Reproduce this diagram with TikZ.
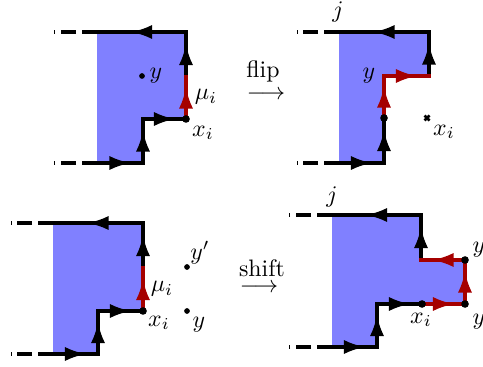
\documentclass[tikz,border=0pt]{standalone}
\usetikzlibrary{arrows.meta,decorations.markings}
\definecolor{dred}{RGB}{165,0,0}
\definecolor{fillblue}{RGB}{128,128,255}
\begin{document}
\begin{tikzpicture}[x=0.42pt,y=-0.42pt,
  edge/.style={line width=1.4pt,line cap=rect},
  redge/.style={edge,draw=dred},
  dashedge/.style={line width=1.4pt,dash pattern=on 6.5pt off 2.3pt},
  ma/.style={postaction={decorate,decoration={markings,
     mark=at position 0.5 with {\arrow[xshift=4.5pt]{Latex[length=9pt,width=6pt]}}}}},
  dot/.style={circle,fill=black,inner sep=0pt,minimum size=3.2pt},
  sdot/.style={circle,fill=black,inner sep=0pt,minimum size=2.4pt},
  lab/.style={inner sep=0pt}]
\useasboundingbox (0,0) rectangle (483,367);

% ---------- panel 1 ----------
\coordinate (A1) at (97,32);  \coordinate (B1) at (186,32);
\coordinate (C1) at (186,77); \coordinate (X1) at (186,119);
\coordinate (D1) at (143,119);\coordinate (E1) at (143,163);
\coordinate (F1) at (97,163); \coordinate (L1t) at (54,32);
\coordinate (L1b) at (54,163);
\fill[fillblue] (A1) -- (B1) -- (X1) -- (D1) -- (E1) -- (F1) -- cycle;
\draw[dashedge] (A1) -- (L1t);
\draw[dashedge] (F1) -- (L1b);
\draw[edge,ma] (B1) -- (A1);
\draw[edge,ma] (C1) -- (B1);
\draw[edge,ma] (D1) -- (X1);
\draw[edge,ma] (E1) -- (D1);
\draw[edge,ma] (F1) -- (E1);
\draw[redge,ma] (X1) -- (C1);
\node[dot] (x1) at (X1) {};
\node[sdot] (y1) at (142,76) {};
\node[lab] (ly1) at (156,76) {$y$};
\node[lab] (lmu1) at (206,97) {$\mu_i$};
\node[lab] (lx1) at (203,133) {$x_i$};

% ---------- flip ----------
\node[lab,anchor=base] (flip) at (263,78) {flip};
\node[lab] (flipar) at (266,100) {$\smash{\longrightarrow}$};

% ---------- panel 2 ----------
\coordinate (A2) at (339,32);  \coordinate (B2) at (429,32);
\coordinate (C2) at (429,76);  \coordinate (Y2) at (384,76);
\coordinate (X2) at (384,118); \coordinate (E2) at (384,163);
\coordinate (F2) at (339,163); \coordinate (L2t) at (297,32);
\coordinate (L2b) at (297,163);
\fill[fillblue] (A2) -- (B2) -- (C2) -- (Y2) -- (E2) -- (F2) -- cycle;
\draw[dashedge] (A2) -- (L2t);
\draw[dashedge] (F2) -- (L2b);
\draw[edge,ma] (B2) -- (A2);
\draw[edge,ma] (C2) -- (B2);
\draw[edge,ma] (E2) -- (X2);
\draw[edge,ma] (F2) -- (E2);
\draw[redge,ma] (X2) -- (Y2);
\draw[redge,ma] (Y2) -- (C2);
\node[dot] (x2) at (X2) {};
\coordinate (M2) at (427,118);
\draw[line width=1.1pt] (424.5,115.5) -- (429.5,120.5) (424.5,120.5) -- (429.5,115.5);
\node[lab] (lj2) at (338,12) {$j$};
\node[lab] (ly2) at (369,76) {$y$};
\node[lab] (lx2) at (444,132) {$x_i$};

% ---------- panel 3 ----------
\coordinate (A3) at (53,223);  \coordinate (B3) at (143,223);
\coordinate (C3) at (143,268); \coordinate (X3) at (143,311);
\coordinate (D3) at (98,311);  \coordinate (E3) at (98,354);
\coordinate (F3) at (53,354);  \coordinate (L3t) at (11,223);
\coordinate (L3b) at (11,354);
\fill[fillblue] (A3) -- (B3) -- (X3) -- (D3) -- (E3) -- (F3) -- cycle;
\draw[dashedge] (A3) -- (L3t);
\draw[dashedge] (F3) -- (L3b);
\draw[edge,ma] (B3) -- (A3);
\draw[edge,ma] (C3) -- (B3);
\draw[edge,ma] (D3) -- (X3);
\draw[edge,ma] (E3) -- (D3);
\draw[edge,ma] (F3) -- (E3);
\draw[redge,ma] (X3) -- (C3);
\node[dot] (x3) at (X3) {};
\node[sdot] (yp3) at (187,267) {};
\node[sdot] (y3) at (187,311) {};
\node[lab] (lmu3) at (162,289) {$\mu_i$};
\node[lab] (lx3) at (159,323) {$x_i$};
\node[lab] (lyp3) at (200,253) {$y'$};
\node[lab] (ly3) at (199,325) {$y$};

% ---------- shift ----------
\node[lab,anchor=base] (shift) at (262,277) {shift};
\node[lab] (shiftar) at (259,293) {$\smash{\longrightarrow}$};

% ---------- panel 4 ----------
\coordinate (A4) at (332,215); \coordinate (B4) at (421,215);
\coordinate (C4) at (421,260); \coordinate (G4) at (465,260);
\coordinate (H4) at (465,304); \coordinate (X4) at (422,304);
\coordinate (D4) at (377,304); \coordinate (E4) at (377,347);
\coordinate (F4) at (332,347); \coordinate (L4t) at (289,215);
\coordinate (L4b) at (289,347);
\fill[fillblue] (A4) -- (B4) -- (C4) -- (G4) -- (H4) -- (D4) -- (E4) -- (F4) -- cycle;
\draw[dashedge] (A4) -- (L4t);
\draw[dashedge] (F4) -- (L4b);
\draw[edge,ma] (B4) -- (A4);
\draw[edge,ma] (C4) -- (B4);
\draw[edge,ma] (D4) -- (X4);
\draw[edge,ma] (E4) -- (D4);
\draw[edge,ma] (F4) -- (E4);
\draw[redge,ma] (G4) -- (C4);
\draw[redge,ma] (H4) -- (G4);
\draw[redge,ma] (X4) -- (H4);
\node[dot] (x4) at (X4) {};
\node[dot] (h4) at (H4) {};
\node[dot] (g4) at (G4) {};
\node[lab] (lj4) at (332,197) {$j$};
\node[lab] (lyg4) at (479,250) {$y$};
\node[lab] (lyh4) at (479,322) {$y$};
\node[lab] (lx4) at (421,320) {$x_i$};
\end{tikzpicture}
\end{document}
